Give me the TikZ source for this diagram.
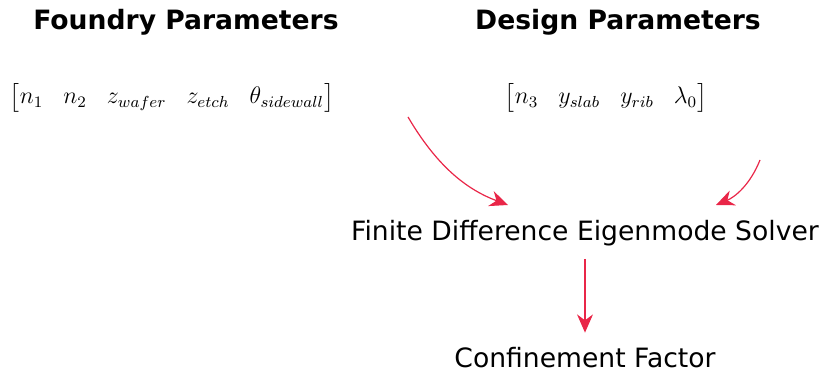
\documentclass[tikz,border=0pt]{standalone}
\usepackage{amsmath}
\usepackage{fontspec}
\setsansfont{DejaVu Sans}
\usetikzlibrary{positioning,arrows.meta}
\definecolor{arrowred}{RGB}{233,38,72}
\tikzset{
  flowarrow/.style={-{Stealth[length=3.2mm,width=2.8mm]}, arrowred, semithick},
  heading/.style={font=\sffamily\bfseries\fontsize{13.3}{15}\selectfont},
  stage/.style={font=\sffamily\fontsize{13.3}{15}\selectfont},
  paramvec/.style={font=\fontsize{12.1}{14}\selectfont}
}

\begin{document}
\begin{tikzpicture}[x=0.5pt, y=-0.5pt]
  \useasboundingbox (0,0) rectangle (819,373);
  % headings
  \node[heading] (fhead) at (186,22) {Foundry Parameters};
  \node[heading] (dhead) at (618,22) {Design Parameters};
  % parameter vectors
  \node[paramvec] (fvec) at (172,98) {$\begin{bmatrix} n_1 & n_2 & z_{wafer} & z_{etch} & \theta_{sidewall} \end{bmatrix}$};
  \node[paramvec] (dvec) at (606,98) {$\begin{bmatrix} n_3 & y_{slab} & y_{rib} & \lambda_0 \end{bmatrix}$};
  % flow
  \node[stage] (solver) at (585,233) {Finite Difference Eigenmode Solver};
  \node[stage] (conf) at (585,358) {Confinement Factor};
  \coordinate (fstart) at (408,117);
  \coordinate (fend) at (508,205);
  \coordinate (dstart) at (760,160);
  \coordinate (dend) at (716,205);
  \draw[flowarrow] (fstart) .. controls (438,168) and (468,190) .. (fend);
  \draw[flowarrow] (dstart) .. controls (750,185) and (735,197) .. (dend);
  \draw[flowarrow, shorten <=3pt, shorten >=4pt] (solver) -- (conf);
\end{tikzpicture}
\end{document}
